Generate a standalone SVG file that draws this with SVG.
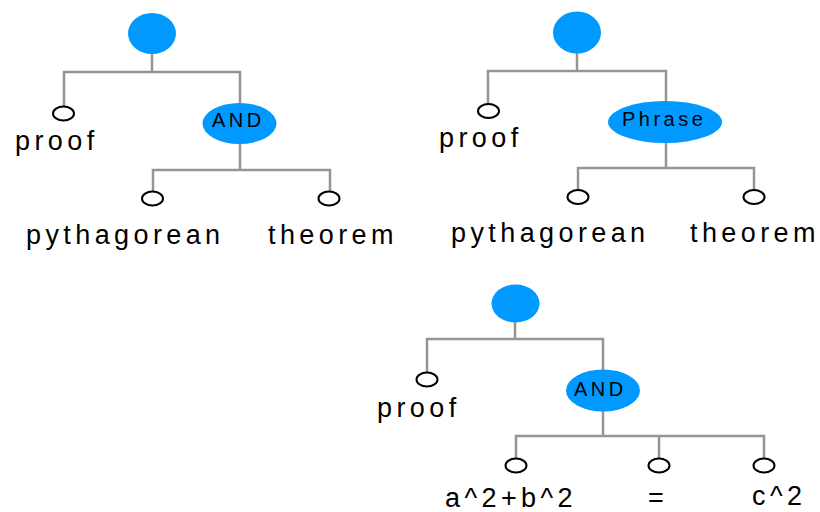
<svg xmlns="http://www.w3.org/2000/svg" width="820" height="512" viewBox="0 0 820 512">
  <style>
    .hub { fill: #0099ff; }
    .leaf { fill: #ffffff; stroke: #000000; stroke-width: 2; }
    .wire { fill: none; stroke: #9b9292; stroke-width: 2.5; }
    .lbl { font-family: "Liberation Sans", Arial, sans-serif; font-size: 27px; letter-spacing: 4.4px; fill: #000000; }
    .tag { font-family: "Liberation Sans", Arial, sans-serif; font-size: 20px; letter-spacing: 3.5px; fill: #000000; }
  </style>
  <rect width="820" height="512" fill="#ffffff"/>

  <!-- connectors -->
  <g id="connectors" class="wire">
    <!-- tree 1 -->
    <path d="M152 54 V72"/>
    <path d="M64 106 V72 H240 V103"/>
    <path d="M240 144 V170"/>
    <path d="M153 191 V170 H330 V191"/>
    <!-- tree 2 -->
    <path d="M577 53 V71"/>
    <path d="M488 104 V71 H666 V101"/>
    <path d="M666 143 V168"/>
    <path d="M578 190 V168 H754 V190"/>
    <!-- tree 3 -->
    <path d="M515 322 V339"/>
    <path d="M427 372 V339 H603 V370"/>
    <path d="M603 411 V436"/>
    <path d="M516 458 V436 H764 V458"/>
    <path d="M659 436 V458"/>
  </g>

  <!-- tree 1 -->
  <g id="t1-root"><ellipse class="hub" cx="152" cy="33.5" rx="24" ry="20.5"/></g>
  <g id="t1-proof">
    <ellipse class="leaf" cx="63.5" cy="113.5" rx="10.5" ry="7"/>
    <text class="lbl" x="15" y="150">proof</text>
  </g>
  <g id="t1-and">
    <ellipse class="hub" cx="239.5" cy="123.5" rx="37" ry="20.5"/>
    <text class="tag" x="212" y="127" letter-spacing="4.5">AND</text>
  </g>
  <g id="t1-pythagorean">
    <ellipse class="leaf" cx="152.5" cy="198.5" rx="10.5" ry="7"/>
    <text class="lbl" x="26" y="244">pythagorean</text>
  </g>
  <g id="t1-theorem">
    <ellipse class="leaf" cx="329" cy="198.5" rx="10.5" ry="7"/>
    <text class="lbl" x="268" y="244">theorem</text>
  </g>

  <!-- tree 2 -->
  <g id="t2-root"><ellipse class="hub" cx="577" cy="32.5" rx="24" ry="21"/></g>
  <g id="t2-proof">
    <ellipse class="leaf" cx="488.5" cy="111" rx="10.5" ry="7"/>
    <text class="lbl" x="439" y="147">proof</text>
  </g>
  <g id="t2-phrase">
    <ellipse class="hub" cx="665" cy="122" rx="57" ry="21"/>
    <text class="tag" x="622" y="126">Phrase</text>
  </g>
  <g id="t2-pythagorean">
    <ellipse class="leaf" cx="578" cy="197" rx="10.5" ry="7"/>
    <text class="lbl" x="451" y="242">pythagorean</text>
  </g>
  <g id="t2-theorem">
    <ellipse class="leaf" cx="754" cy="197" rx="10.5" ry="7"/>
    <text class="lbl" x="690" y="242">theorem</text>
  </g>

  <!-- tree 3 -->
  <g id="t3-root"><ellipse class="hub" cx="515.5" cy="303.5" rx="24" ry="19"/></g>
  <g id="t3-proof">
    <ellipse class="leaf" cx="427" cy="379.5" rx="10.5" ry="7"/>
    <text class="lbl" x="377" y="417">proof</text>
  </g>
  <g id="t3-and">
    <ellipse class="hub" cx="603" cy="390.5" rx="37" ry="21"/>
    <text class="tag" x="574" y="396" letter-spacing="4.5">AND</text>
  </g>
  <g id="t3-lhs">
    <ellipse class="leaf" cx="516" cy="465.5" rx="10.5" ry="7"/>
    <text class="lbl" x="445" y="507">a^2+b^2</text>
  </g>
  <g id="t3-eq">
    <ellipse class="leaf" cx="659" cy="465.5" rx="10.5" ry="7"/>
    <text class="lbl" x="648" y="507">=</text>
  </g>
  <g id="t3-rhs">
    <ellipse class="leaf" cx="764" cy="465.5" rx="10.5" ry="7"/>
    <text class="lbl" x="752" y="505">c^2</text>
  </g>
</svg>
